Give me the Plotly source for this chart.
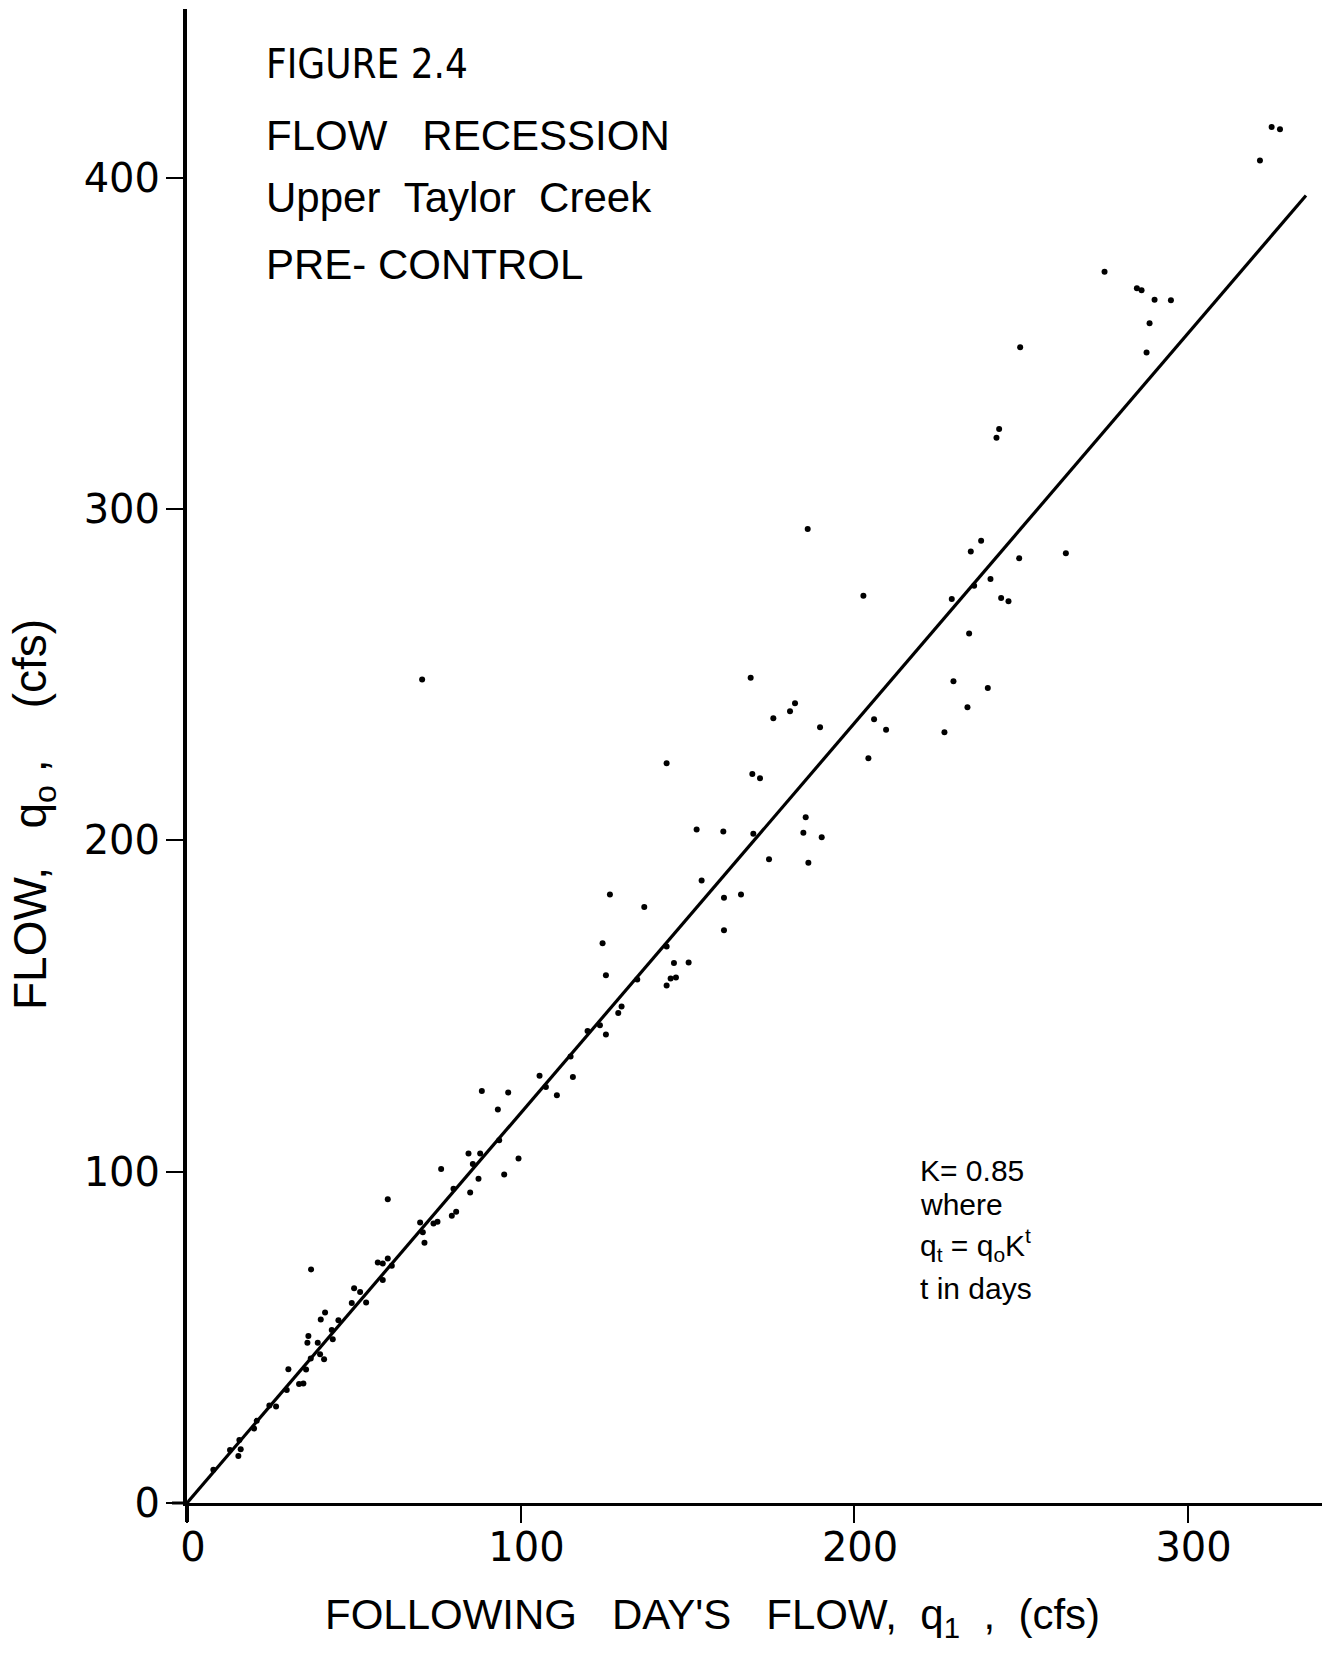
import plotly.graph_objects as go

# ---- data ----
# following day's flow q1 (cfs)
q1 = [93.2, 84.4, 87.9, 85.7, 93.6, 99.4, 95.1, 76.2, 87.4, 84.9, 79.9, 79.4, 80.7, 60.2, 69.9,
      70.7, 71.2, 73.9, 75.1, 57.2, 58.7, 60.2, 61.4, 58.7, 37.2, 50.1, 51.9, 49.4, 53.7, 41.4,
      40.1, 45.4, 43.4, 43.7, 36.4, 36.1, 39.2, 37.1, 39.9, 41.1, 35.7, 30.4, 33.6, 34.9, 29.9,
      24.7, 26.7, 20.9, 20.1, 15.7, 16.1, 15.4, 12.9, 7.9,
      185.5, 184.8, 190.3, 186.3, 152.8, 160.8, 169.8, 174.5, 154.3, 161.0, 166.1, 161.0, 126.8,
      137.1, 124.6, 125.6, 143.8, 146.0, 150.4, 145.0, 146.6, 143.8, 135.0, 130.3, 129.3, 123.8,
      125.6, 120.1, 115.0, 105.7, 115.7, 110.9, 107.6, 88.4, 96.3,
      186.1, 238.1, 235.0, 249.5, 263.5, 202.8, 240.9, 236.0, 229.3, 244.1, 246.3, 234.5, 169.0,
      229.8, 240.1, 234.0, 182.3, 180.8, 175.8, 189.8, 227.1, 206.0, 209.6, 204.3, 169.5, 171.8,
      325.2, 327.7, 321.7, 275.1, 284.8, 286.2, 290.1, 295.0, 288.6, 287.7,
      70.5, 143.8, 249.8, 243.5, 242.7]
# flow q0 (cfs)
q0 = [118.8, 105.5, 105.5, 102.3, 109.5, 104.0, 99.2, 100.8, 97.9, 93.7, 94.9, 86.7, 87.9, 91.7, 84.7,
      81.7, 78.6, 84.4, 84.9, 72.6, 72.3, 73.8, 71.6, 67.3, 70.5, 64.8, 63.7, 60.4, 60.5, 57.5,
      55.4, 55.2, 52.2, 49.4, 50.4, 48.4, 48.4, 43.6, 44.9, 43.4, 40.3, 40.4, 35.9, 36.1, 34.1,
      29.4, 29.1, 24.8, 22.5, 19.0, 16.2, 14.2, 16.0, 10.0,
      207.0, 202.3, 201.0, 193.3, 203.3, 202.7, 202.0, 194.3, 187.9, 182.7, 183.7, 172.9, 183.7,
      179.9, 169.0, 159.3, 168.0, 163.0, 163.2, 158.3, 158.6, 156.2, 158.0, 149.9, 147.9, 144.2,
      141.4, 142.5, 134.8, 129.0, 128.6, 123.1, 125.6, 124.4, 123.9,
      294.0, 290.5, 287.2, 285.2, 286.7, 273.9, 278.9, 276.9, 272.9, 273.2, 272.2, 262.5, 249.1,
      248.1, 246.0, 240.2, 241.4, 239.0, 236.9, 234.2, 232.7, 236.6, 233.4, 224.8, 220.1, 218.8,
      415.4, 414.7, 405.3, 371.7, 366.7, 366.1, 363.2, 363.1, 356.1, 347.3,
      248.6, 223.3, 348.9, 324.2, 321.6]

K = 0.85
line_q1 = [0, 335.5]
line_q0 = [v / K for v in line_q1]

x_ticks = [0, 100, 200, 300]
y_ticks = [0, 100, 200, 300, 400]

# ---- layout geometry (pixels) ----
W, H = 1323, 1655
L, R, T, B = 187, 1, 9, 152
PW, PH = W - L - R, H - T - B


def px(xp):
    return (xp - L) / PW


def py(yp):
    return (H - B - yp) / PH


TICK_FONT = dict(family="DejaVu Sans, sans-serif", size=40, color="black")
TXT = "Liberation Sans, Arial, sans-serif"
NARROW = "Liberation Sans Narrow, Arial Narrow, DejaVu Sans Condensed, sans-serif"
NB = "&nbsp;"

fig = go.Figure()
fig.add_trace(go.Scatter(x=line_q1, y=line_q0, mode="lines",
                         line=dict(color="black", width=3.2), hoverinfo="skip", showlegend=False))
fig.add_trace(go.Scatter(x=q1, y=q0, mode="markers",
                         marker=dict(color="black", size=6), showlegend=False, cliponaxis=False))

annotations = [
    dict(text="FIGURE 2.4", x=px(264), y=py(64), font=dict(family=NARROW, size=40)),
    dict(text="FLOW" + NB * 3 + "RECESSION", x=px(264), y=py(135), font=dict(family=TXT, size=42)),
    dict(text="Upper" + NB * 2 + "Taylor" + NB * 2 + "Creek", x=px(264), y=py(197), font=dict(family=TXT, size=42)),
    dict(text="PRE-" + NB + "CONTROL", x=px(264), y=py(264), font=dict(family=TXT, size=42)),
    dict(text="K= 0.85", x=px(918), y=py(1170), font=dict(family=TXT, size=30)),
    dict(text="where", x=px(918), y=py(1204), font=dict(family=TXT, size=30)),
    dict(text="q<sub>t</sub> = q<sub>o</sub>K<sup>t</sup>", x=px(918), y=py(1245), font=dict(family=TXT, size=30)),
    dict(text="t in days", x=px(918), y=py(1288), font=dict(family=TXT, size=30)),
]
for a in annotations:
    a.update(xref="paper", yref="paper", xanchor="left", yanchor="middle", showarrow=False)
    a["font"]["color"] = "black"

# axis titles
annotations.append(dict(
    text="FOLLOWING" + NB * 3 + "DAY'S" + NB * 3 + "FLOW," + NB * 2 + "q<sub>1</sub>" + NB * 2 + "," + NB * 2 + "(cfs)",
    x=px(712), y=py(1617), xref="paper", yref="paper", xanchor="center", yanchor="middle",
    showarrow=False, font=dict(family=TXT, size=42, color="black")))
annotations.append(dict(
    text="FLOW," + NB * 3 + "q<sub>o</sub>" + NB + "," + NB * 4 + "(cfs)",
    x=px(33), y=py(815), xref="paper", yref="paper", xanchor="center", yanchor="middle",
    textangle=-90, showarrow=False, font=dict(family=TXT, size=46, color="black")))

shapes = [
    dict(type="line", xref="paper", yref="paper", x0=px(172), x1=px(L), y0=0, y1=0,
         line=dict(color="black", width=3)),
    dict(type="line", xref="paper", yref="paper", x0=0, x1=0, y0=py(1522), y1=0,
         line=dict(color="black", width=4)),
]

fig.update_layout(
    width=W, height=H,
    margin=dict(l=L, r=R, t=T, b=B, pad=0),
    paper_bgcolor="white", plot_bgcolor="white",
    showlegend=False,
    annotations=annotations,
    shapes=shapes,
    xaxis=dict(range=[0, 340.3], tickvals=x_ticks, ticktext=[str(v) for v in x_ticks],
               showgrid=False, zeroline=False, showline=True, linecolor="black", linewidth=3,
               ticks="outside", ticklen=17, tickwidth=2, tickcolor="black",
               tickfont=TICK_FONT, ticklabelstandoff=-10, ticklabelshift=6),
    yaxis=dict(range=[0, 451], tickvals=y_ticks, ticktext=[str(v) for v in y_ticks],
               showgrid=False, zeroline=False, showline=True, linecolor="black", linewidth=4,
               ticks="outside", ticklen=17, tickwidth=2, tickcolor="black",
               tickfont=TICK_FONT, ticklabelstandoff=-2),
)

fig.write_html("out.html")
